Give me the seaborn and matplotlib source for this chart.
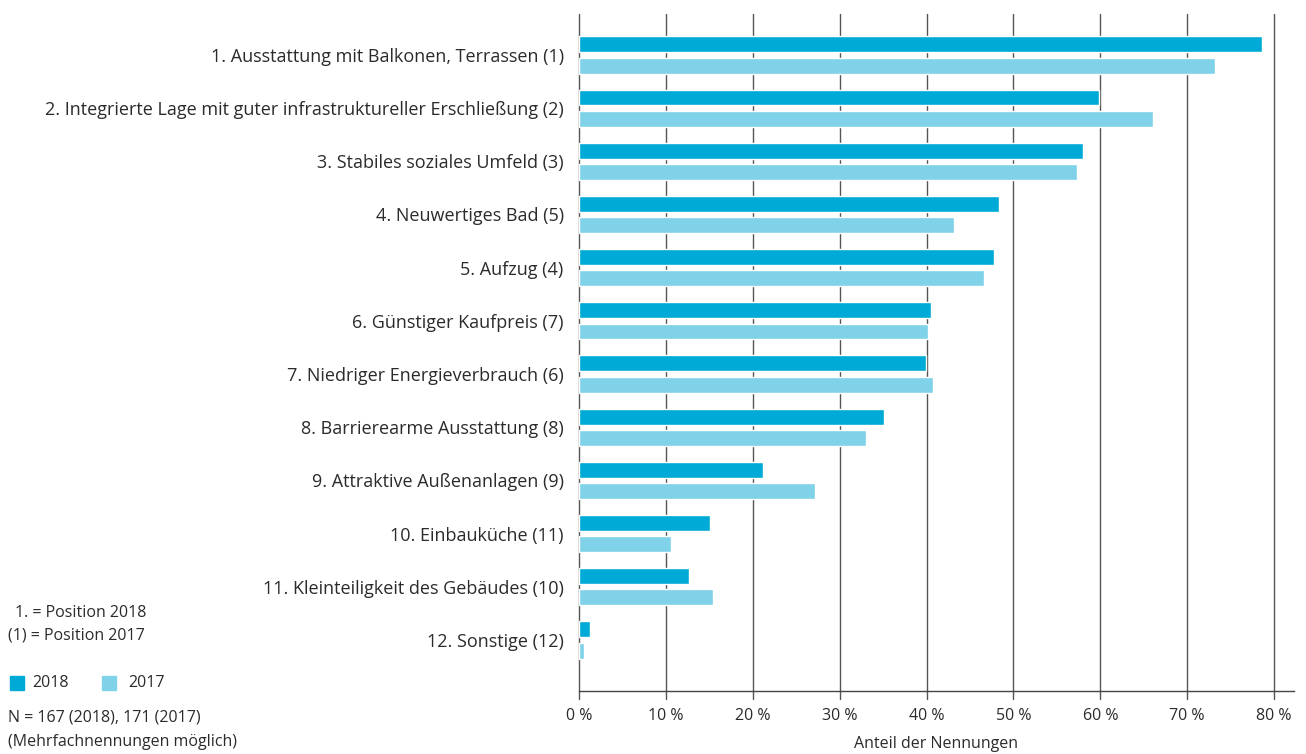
import matplotlib
matplotlib.use("Agg")
import matplotlib.pyplot as plt
import matplotlib.patches as mpatches
import seaborn as sns
import pandas as pd

categories = [
    "1. Ausstattung mit Balkonen, Terrassen (1)",
    "2. Integrierte Lage mit guter infrastruktureller Erschließung (2)",
    "3. Stabiles soziales Umfeld (3)",
    "4. Neuwertiges Bad (5)",
    "5. Aufzug (4)",
    "6. Günstiger Kaufpreis (7)",
    "7. Niedriger Energieverbrauch (6)",
    "8. Barrierearme Ausstattung (8)",
    "9. Attraktive Außenanlagen (9)",
    "10. Einbauküche (11)",
    "11. Kleinteiligkeit des Gebäudes (10)",
    "12. Sonstige (12)",
]
values_2018 = [78.6, 59.8, 58.0, 48.3, 47.8, 40.5, 39.9, 35.1, 21.2, 15.1, 12.7, 1.3]
values_2017 = [73.2, 66.1, 57.3, 43.2, 46.6, 40.2, 40.7, 33.0, 27.2, 10.6, 15.4, 0.6]
series = ["2018", "2017"]
xticks = [0, 10, 20, 30, 40, 50, 60, 70, 80]

c2018 = "#00aad6"
c2017 = "#80d2e9"
txt = "#2b2b2b"

df = pd.DataFrame({
    "cat": categories * 2,
    "val": values_2018 + values_2017,
    "year": [series[0]] * len(categories) + [series[1]] * len(categories),
})

sns.set_theme(style="white")
plt.rcParams["font.family"] = ["Open Sans", "DejaVu Sans"]

fig = plt.figure(figsize=(13.06, 7.54), dpi=100)
ax = fig.add_axes([579 / 1306, 1 - 691 / 754, (1294 - 579) / 1306, (691 - 14) / 754])

sns.barplot(data=df, y="cat", x="val", hue="year", orient="h",
            palette={"2018": c2018, "2017": c2017}, width=0.8, gap=0.25,
            saturation=1, legend=False, ax=ax, order=categories, hue_order=series)

ax.set_xlim(0, 82.3)
ax.set_ylim(11.96, -0.77)
ax.set_xticks(xticks)
ax.set_xticklabels([f"{t} %" for t in xticks], fontsize=11.5, color=txt)
ax.tick_params(axis="x", length=0, pad=12)
ax.tick_params(axis="y", length=0, pad=11)
for lab in ax.get_yticklabels():
    lab.set_fontsize(13)
    lab.set_color(txt)
ax.set_ylabel("")
ax.set_xlabel("Anteil der Nennungen", fontsize=11.5, color=txt, labelpad=9)

for t in xticks:
    ax.axvline(t, color="#555555", lw=1, zorder=0, ymin=-0.012, ymax=1, clip_on=False)
ax.set_axisbelow(True)
for s in ["top", "right", "left"]:
    ax.spines[s].set_visible(False)
ax.spines["bottom"].set_color("#444444")
ax.spines["bottom"].set_linewidth(1)

# Left notes
fig.text(15 / 1306, 1 - 613 / 754, "1. = Position 2018", fontsize=11.5, color=txt, va="center")
fig.text(8 / 1306, 1 - 636 / 754, "(1) = Position 2017", fontsize=11.5, color=txt, va="center")

fig.patches.append(mpatches.Rectangle((10 / 1306, 1 - 690 / 754), 14 / 1306, 14 / 754,
                                      transform=fig.transFigure, color=c2018))
fig.text(32 / 1306, 1 - 683 / 754, "2018", fontsize=11.5, color=txt, va="center")
fig.patches.append(mpatches.Rectangle((102 / 1306, 1 - 690 / 754), 14 / 1306, 14 / 754,
                                      transform=fig.transFigure, color=c2017))
fig.text(128 / 1306, 1 - 683 / 754, "2017", fontsize=11.5, color=txt, va="center")

fig.text(8 / 1306, 1 - 717 / 754, "N = 167 (2018), 171 (2017)", fontsize=11.5, color=txt, va="center")
fig.text(8 / 1306, 1 - 742 / 754, "(Mehrfachnennungen möglich)", fontsize=11.5, color=txt, va="center")

fig.savefig("out.png", dpi=100)
